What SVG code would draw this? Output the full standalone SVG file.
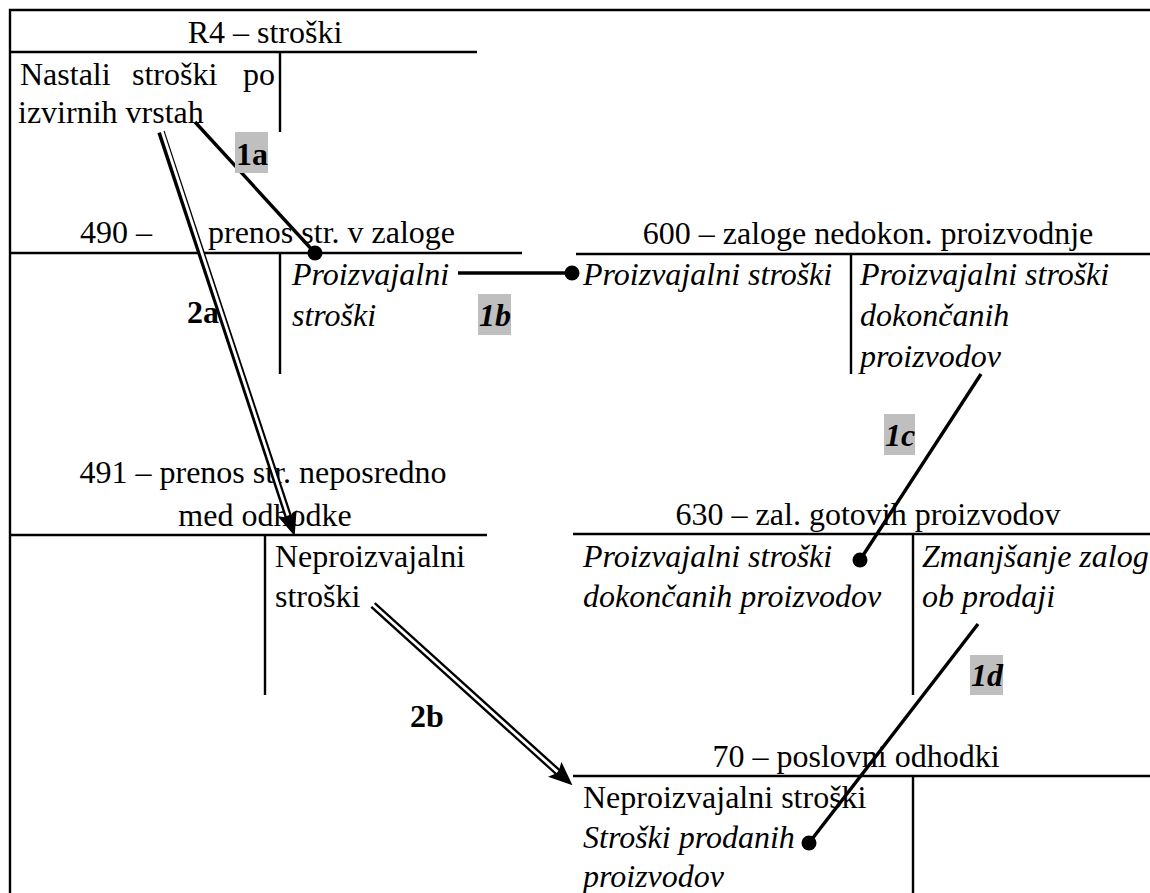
<svg xmlns="http://www.w3.org/2000/svg" width="1150" height="893" viewBox="0 0 1150 893">
  <style>
    text { font-family: "Liberation Serif", "Times New Roman", serif; font-size: 32px; fill: #000; }
    .it { font-style: italic; }
    .mid { text-anchor: middle; }
    .lbl { font-weight: bold; }
    .lbli { font-weight: bold; font-style: italic; }
    .rule { stroke: #000; stroke-width: 2.4; fill: none; }
    .tag { fill: #bfbfbf; }
    .link { stroke: #000; stroke-width: 3.4; fill: none; }
    .dbl-out { stroke: #000; stroke-width: 7.5; fill: none; }
    .dbl-in { stroke: #fff; stroke-width: 2.8; fill: none; }
    .dot { fill: #000; }
  </style>
  <defs>
    <!-- solid head for the double-line arrows -->
    <marker id="head" viewBox="0 0 24 20" refX="12" refY="10" markerWidth="24" markerHeight="20" markerUnits="userSpaceOnUse" orient="auto">
      <path d="M0,0 L24,10 L0,20 L5,10 z" fill="#000"/>
    </marker>
  </defs>

  <rect width="1150" height="893" fill="#fff"/>

  <!-- outer frame (top and left edges) -->
  <path class="rule" d="M10,893 V10 H1150"/>

  <!-- R4 account -->
  <g id="acc-r4">
    <path class="rule" d="M10,52 H477 M280,52 V132"/>
    <text class="mid" x="265" y="43">R4 – stroški</text>
    <text y="85"><tspan x="20">Nastali</tspan><tspan x="132">stroški</tspan><tspan x="243">po</tspan></text>
    <text x="18" y="123">izvirnih vrstah</text>
  </g>

  <!-- 490 account -->
  <g id="acc-490">
    <path class="rule" d="M10,253 H522 M280,253 V374"/>
    <text x="80" y="243">490 –</text>
    <text x="208" y="243">prenos str. v zaloge</text>
    <text class="it" x="292" y="285">Proizvajalni</text>
    <text class="it" x="292" y="326">stroški</text>
  </g>

  <!-- 600 account -->
  <g id="acc-600">
    <path class="rule" d="M576,254 H1150 M851,254 V374"/>
    <text class="mid" x="868" y="244">600 – zaloge nedokon. proizvodnje</text>
    <text class="it" x="583" y="285">Proizvajalni stroški</text>
    <text class="it" x="860" y="285">Proizvajalni stroški</text>
    <text class="it" x="860" y="326">dokončanih</text>
    <text class="it" x="860" y="367">proizvodov</text>
  </g>

  <!-- 491 account -->
  <g id="acc-491">
    <path class="rule" d="M10,535 H487 M265,535 V695"/>
    <text class="mid" x="263" y="483">491 – prenos str. neposredno</text>
    <text class="mid" x="265" y="526">med odhodke</text>
    <text x="275" y="567">Neproizvajalni</text>
    <text x="275" y="607">stroški</text>
  </g>

  <!-- 630 account -->
  <g id="acc-630">
    <path class="rule" d="M573,534 H1150 M913,534 V695"/>
    <text class="mid" x="868" y="525">630 – zal. gotovih proizvodov</text>
    <text class="it" x="583" y="567">Proizvajalni stroški</text>
    <text class="it" x="583" y="607">dokončanih proizvodov</text>
    <text class="it" x="922" y="567">Zmanjšanje zalog</text>
    <text class="it" x="922" y="607">ob prodaji</text>
  </g>

  <!-- 70 account -->
  <g id="acc-70">
    <path class="rule" d="M573,776 H1150 M913,776 V893"/>
    <text class="mid" x="856" y="767">70 – poslovni odhodki</text>
    <text x="583" y="808">Neproizvajalni stroški</text>
    <text class="it" x="583" y="848">Stroški prodanih</text>
    <text class="it" x="583" y="887">proizvodov</text>
  </g>

  <!-- connectors -->
  <g id="connectors">
    <!-- 1a -->
    <line class="link" x1="195" y1="122" x2="315" y2="253"/>
    <circle class="dot" cx="315" cy="253" r="7.5"/>
    <!-- 1b -->
    <line class="link" x1="458" y1="273" x2="572" y2="273"/>
    <circle class="dot" cx="572" cy="273" r="7.5"/>
    <!-- 1c -->
    <line class="link" x1="981" y1="374" x2="860" y2="560"/>
    <circle class="dot" cx="860" cy="560" r="7.5"/>
    <!-- 1d -->
    <line class="link" x1="978" y1="624" x2="809" y2="843"/>
    <circle class="dot" cx="809" cy="843" r="7.5"/>
    <!-- 2a double arrow -->
    <line class="dbl-out" x1="161" y1="132" x2="290.9" y2="524.5" marker-end="url(#head)"/>
    <line class="dbl-in" x1="161" y1="128" x2="288" y2="515.5"/>
    <!-- 2b double arrow -->
    <line class="dbl-out" x1="373" y1="605" x2="563.6" y2="777.3" marker-end="url(#head)"/>
    <line class="dbl-in" x1="370" y1="602.3" x2="557.6" y2="771.9"/>
  </g>

  <!-- step labels -->
  <g id="labels">
    <rect class="tag" x="235" y="132" width="33" height="41"/>
    <text class="lbl" x="236" y="165">1a</text>
    <rect class="tag" x="478" y="294" width="33" height="41"/>
    <text class="lbli" x="479" y="326">1b</text>
    <rect class="tag" x="884" y="414" width="31" height="41"/>
    <text class="lbli" x="885" y="446">1c</text>
    <rect class="tag" x="970" y="655" width="33" height="40"/>
    <text class="lbli" x="971" y="686">1d</text>
    <text class="lbl" x="187" y="323">2a</text>
    <text class="lbl" x="410" y="727">2b</text>
  </g>
</svg>
